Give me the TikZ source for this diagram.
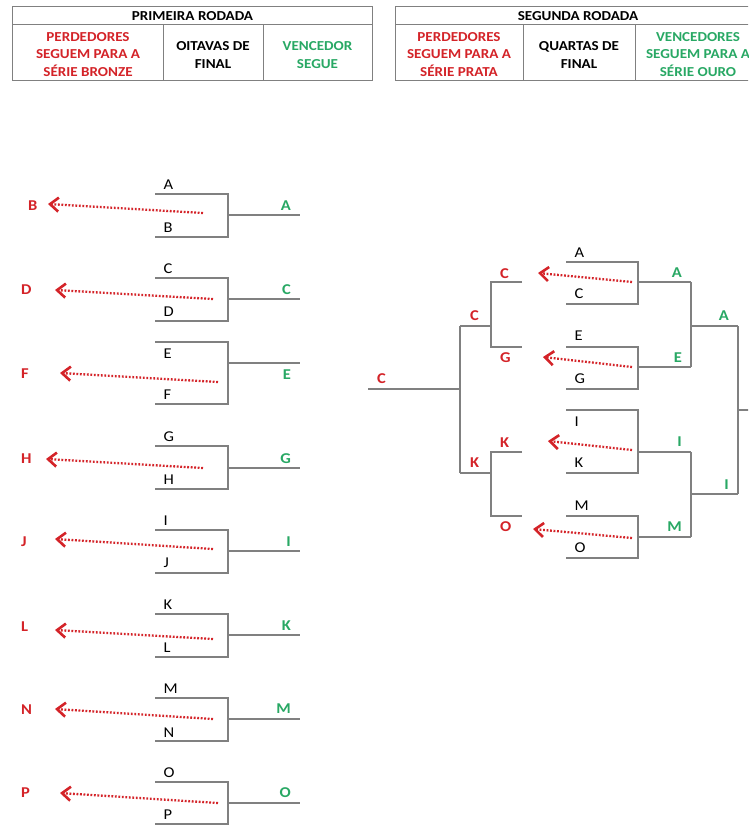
\documentclass[tikz,border=0pt]{standalone}
\usepackage{fontspec}
\setmainfont[FakeStretch=1.1]{Carlito}
\usetikzlibrary{arrows.meta}
\definecolor{lossred}{RGB}{212,35,40}
\definecolor{wingreen}{RGB}{40,168,100}
\definecolor{linegray}{RGB}{128,128,128}
\tikzset{
  bline/.style={draw=linegray, line width=1.3pt},
  tline/.style={draw=linegray, line width=1pt},
  lbl/.style={font=\fontsize{15}{17}\selectfont, text=black, inner sep=0pt},
  redlbl/.style={font=\bfseries\fontsize{15}{17}\selectfont, text=lossred, inner sep=0pt},
  grnlbl/.style={font=\bfseries\fontsize{15}{17}\selectfont, text=wingreen, inner sep=0pt},
  lossarrow/.style={draw=lossred, line width=2.3pt, dash pattern=on 1.8pt off 1.7pt,
     -{Straight Barb[length=8.5pt,width=14pt,line width=2.6pt]}},
  hdr/.style={font=\bfseries\fontsize{13.7}{17.5}\selectfont, align=center, inner sep=0pt}
}
\begin{document}
\begin{tikzpicture}[x=1pt,y=-1pt]
\clip (0,0) rectangle (748,837);
\fill[white] (0,0) rectangle (748,837);

% ---------- Table 1 ----------
\draw[tline] (12.7,7) rectangle (372,81);
\draw[tline] (12.7,25) -- (372,25);
\draw[tline] (163,25) -- (163,81);
\draw[tline] (263,25) -- (263,81);
\node[hdr] (t1h) at (192.5,16) {PRIMEIRA RODADA};
\node[hdr, text=lossred] (t1a) at (88,54.5) {PERDEDORES\\SEGUEM PARA A\\SÉRIE BRONZE};
\node[hdr] (t1b) at (213,55) {OITAVAS DE\\FINAL};
\node[hdr, text=wingreen] (t1c) at (317.5,55) {VENCEDOR\\SEGUE};

% ---------- Table 2 ----------
\draw[tline] (395.5,7) rectangle (762,81);
\draw[tline] (395.5,25) -- (762,25);
\draw[tline] (523,25) -- (523,81);
\draw[tline] (635,25) -- (635,81);
\node[hdr] (t2h) at (578,16) {SEGUNDA RODADA};
\node[hdr, text=lossred] (t2a) at (459,54.5) {PERDEDORES\\SEGUEM PARA A\\SÉRIE PRATA};
\node[hdr] (t2b) at (579,55) {QUARTAS DE\\FINAL};
\node[hdr, text=wingreen] (t2c) at (698,54.5) {VENCEDORES\\SEGUEM PARA A\\SÉRIE OURO};

% ---------- Left: first round ----------
\foreach \k/\t/\b/\o/\U/\uy/\D/\dy/\tpx/\tpy/\tlx/\tly/\rx/\ry/\gy in {
  1/194/237/215/A/185/B/228/48/204/203/213/28/206/206,
  2/278/321/299/C/269/D/312/55/290/213/299/21/290/290,
  3/342/404/363/E/354/F/395/60/373/218/382/21/374/375,
  4/446/489/468/G/437/H/480/46/459/203/468/21/459/459,
  5/530/573/551/I/521/J/563/55/539/213/549/21/542/542,
  6/614/657/635/K/605/L/648/55/630/213/639/21/627/626,
  7/698/741/719/M/689/N/733/55/709/213/719/21/710/709,
  8/782/824/803/O/773/P/815/60/793/218/803/21/793/793}
{
  \draw[bline] (155,\t) -- (228,\t) -- (228,\b) -- (155,\b);
  \draw[bline] (228,\o) -- (300,\o);
  \node[lbl, anchor=west] (up\k) at (163.5,\uy) {\U};
  \node[lbl, anchor=west] (dn\k) at (163.5,\dy) {\D};
  \node[redlbl, anchor=west] (lose\k) at (\rx,\ry) {\D};
  \node[grnlbl, anchor=east] (win\k) at (291,\gy) {\U};
  \coordinate (tail\k) at (\tlx,\tly);
  \coordinate (tip\k) at (\tpx,\tpy);
  \draw[lossarrow] (tail\k) -- (tip\k);
}

% ---------- Right: second round ----------
\foreach \k/\t/\b/\o/\U/\uy/\D/\dy/\tpy/\tly/\ry/\gy in {
  1/262/304/282/A/253/C/294/273/282/274/273,
  2/347/389/367/E/336/G/379/357/367/358/358,
  3/410/473/452/I/422/K/463/441/450/443/442,
  4/516/558/537/M/506/O/548/529/538/527/527}
{
  \draw[bline] (566,\t) -- (638,\t) -- (638,\b) -- (566,\b);
  \draw[bline] (638,\o) -- (691,\o);
  \node[lbl, anchor=west] (qup\k) at (574.5,\uy) {\U};
  \node[lbl, anchor=west] (qdn\k) at (574.5,\dy) {\D};
  \node[redlbl, anchor=west] (qlose\k) at (500,\ry) {\D};
  \node[grnlbl, anchor=east] (qwin\k) at (682,\gy) {\U};
  \coordinate (qtail\k) at (632,\tly);
}
\coordinate (qtip1) at (538,273);
\coordinate (qtip2) at (543,357);
\coordinate (qtip3) at (548,441);
\coordinate (qtip4) at (533,529);
\foreach \k in {1,2,3,4} { \draw[lossarrow] (qtail\k) -- (qtip\k); }

% winners (gold)
\draw[bline] (691,282) -- (691,367);
\draw[bline] (691,326) -- (738,326);
\draw[bline] (691,452) -- (691,537);
\draw[bline] (691,494) -- (738,494);
\draw[bline] (738,326) -- (738,494);
\draw[bline] (738,410) -- (750,410);
\node[grnlbl, anchor=east] (semiA) at (729,316) {A};
\node[grnlbl, anchor=east] (semiI) at (729,485) {I};

% losers (silver)
\draw[bline] (522,282) -- (491,282) -- (491,347) -- (522,347);
\draw[bline] (491,326) -- (460,326);
\draw[bline] (522,452) -- (491,452) -- (491,516) -- (522,516);
\draw[bline] (491,473) -- (460,473);
\draw[bline] (460,326) -- (460,473);
\draw[bline] (460,389) -- (368,389);
\node[redlbl, anchor=west] (silvC) at (470,316) {C};
\node[redlbl, anchor=west] (silvK) at (470,463) {K};
\node[redlbl, anchor=west] (silvF) at (377,379) {C};
\end{tikzpicture}
\end{document}
